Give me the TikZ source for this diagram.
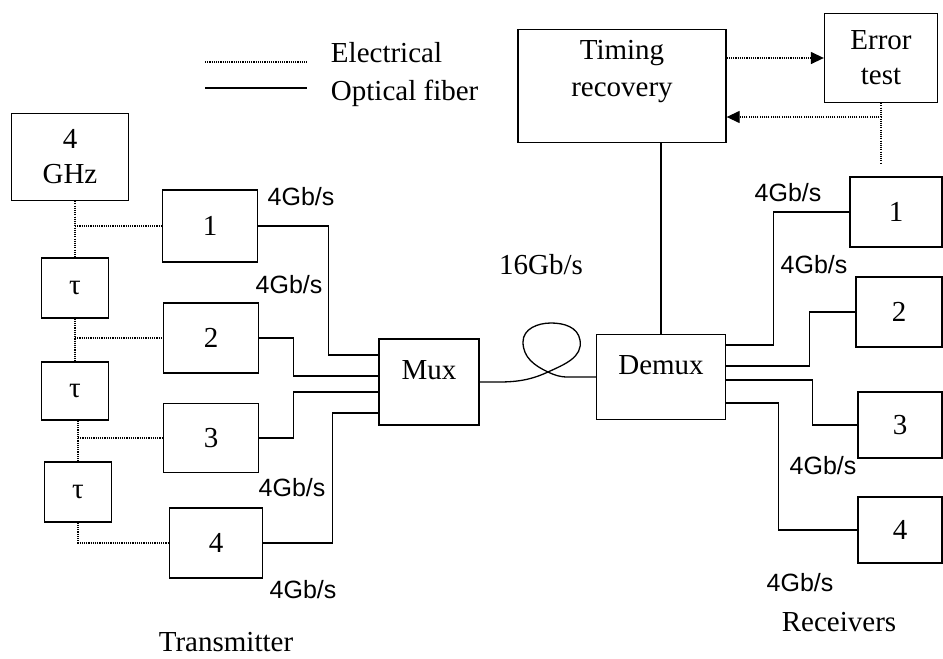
\documentclass[tikz,border=0pt]{standalone}
\usepackage{fontspec}
\setmainfont{Liberation Serif}
\newfontfamily\ratefont{Liberation Sans}
\usetikzlibrary{arrows.meta}

\begin{document}
\begin{tikzpicture}[x=1pt,y=-1pt,line width=1.3pt,
    blk/.style={draw,inner sep=0pt,align=center,font=\fontsize{29}{35}\selectfont},
    elec/.style={line width=1.3pt,dash pattern=on 1.1pt off 1.1pt},
    fiber/.style={line width=1.3pt},
    tip/.style={-{Triangle[length=13pt,width=12pt]}},
    rate/.style={font=\ratefont\fontsize{25}{27}\selectfont},
    lbl/.style={font=\fontsize{29}{37}\selectfont}]
        \useasboundingbox (0,0) rectangle (943,659);
        % legend
        \draw[elec] (205,62) -- (307,62);
        \draw[fiber] (205,88) -- (307,88);
        \node[lbl,anchor=base west] (legel) at (327,62) {Electrical};
        \node[lbl,anchor=base west] (legop) at (327,100) {Optical fiber};

        % transmitter side
        \node[blk,minimum width=117,minimum height=87] (ghz) at (70,157) {4\\GHz};
        \node[blk,minimum width=67,minimum height=60] (tau1) at (75,288) {τ};
        \node[blk,minimum width=67,minimum height=58] (tau2) at (75,391) {τ};
        \node[blk,minimum width=67,minimum height=60] (tau3) at (78,492) {τ};
        \node[blk,minimum width=95,minimum height=72] (tx1) at (210,226) {1};
        \node[blk,minimum width=95,minimum height=70] (tx2) at (211,338) {2};
        \node[blk,minimum width=95,minimum height=69] (tx3) at (211,438) {3};
        \node[blk,minimum width=93,minimum height=70] (tx4) at (216,543) {4};
        \node[blk,minimum width=100,minimum height=86,text depth=24pt] (mux) at (429,382) {Mux};

        \draw[elec] (ghz.south -| tau1) -- (tau1.north);
        \draw[elec] (tau1.south) -- (tau2.north);
        \draw[elec] (tau2.south -| tau3) -- (tau3.north);
        \draw[elec] (tau1.north |- tx1.west) -- (tx1.west);
        \draw[elec] (tau2.south |- tx2.west) -- (tx2.west);
        \draw[elec] (tau3.north |- tx3.west) -- (tx3.west);
        \draw[elec] (tau3.south) |- (tx4.west);

        \draw[fiber] (tx1.east) -- ++(70,0) |- (mux.west |- 0,355);
        \draw[fiber] (tx2.east) -- ++(34,0) |- (mux.west |- 0,376);
        \draw[fiber] (tx3.east) -- ++(34,0) |- (mux.west |- 0,392);
        \draw[fiber] (tx4.east) -- ++(69,0) |- (mux.west |- 0,413);

        \node[rate] (r1) at (301,197) {4Gb/s};
        \node[rate] (r2) at (289,285) {4Gb/s};
        \node[rate] (r3) at (292,488) {4Gb/s};
        \node[rate] (r4) at (303,590) {4Gb/s};
        \node[lbl] (txlbl) at (226,642) {Transmitter};

        % fiber span
        \node[blk,minimum width=129,minimum height=85,text depth=24pt] (demux) at (661,377) {Demux};
        \draw[fiber] (mux.east) to[out=0,in=205] (548,372) to[out=25,in=-80] (580,340)
            to[out=100,in=0] (551,323) to[out=180,in=90] (523,342) to[out=-90,in=155] (548,372)
            to[out=-25,in=180] (568,377) -- (demux.west);
        \node[lbl] (fib) at (541,265) {16Gb/s};

        % receiver side
        \node[blk,minimum width=208,minimum height=113] (timing) at (622,86) {};
        \node[lbl,align=center] (timingtxt) at (622,72) {Timing\\recovery};
        \node[blk,minimum width=113,minimum height=89] (err) at (881,58) {Error\\test};
        \coordinate (clk) at (err.south |- 0,163);
        \draw[elec,tip] (timing.east |- err.west) -- (err.west);
        \draw[elec,tip] (err.south) |- (timing.east |- 0,117);
        \draw[elec] (err.south) -- (clk);
        \draw[fiber] (timing.south -| demux.north) -- (demux.north);

        \node[blk,minimum width=92,minimum height=70] (rx1) at (896,212) {1};
        \node[blk,minimum width=86,minimum height=70] (rx2) at (899,312) {2};
        \node[blk,minimum width=84,minimum height=66] (rx3) at (900,425) {3};
        \node[blk,minimum width=84,minimum height=66] (rx4) at (900,530) {4};

        \draw[fiber] (demux.east |- 0,345) -- ++(47,0) |- (rx1.west);
        \draw[fiber] (demux.east |- 0,366) -- ++(83,0) |- (rx2.west);
        \draw[fiber] (demux.east |- 0,380) -- ++(86,0) |- (rx3.west);
        \draw[fiber] (demux.east |- 0,403) -- ++(52,0) |- (rx4.west);

        \node[rate] (q1) at (788,193) {4Gb/s};
        \node[rate] (q2) at (814,265) {4Gb/s};
        \node[rate] (q3) at (823,466) {4Gb/s};
        \node[rate] (q4) at (800,583) {4Gb/s};
        \node[lbl] (rxlbl) at (839,622) {Receivers};
    \end{tikzpicture}
\end{document}
